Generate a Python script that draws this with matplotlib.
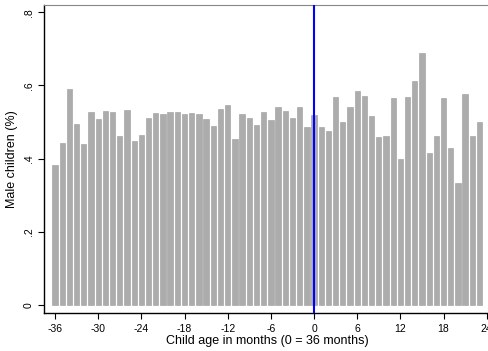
import matplotlib
matplotlib.use('Agg')
import matplotlib.pyplot as plt
import numpy as np

# Child age relative to 36 months, and share of male children
months = np.arange(-36, 24)
male_share = [
    0.383, 0.443, 0.590, 0.495, 0.441, 0.528, 0.508, 0.530, 0.527, 0.463,
    0.534, 0.448, 0.464, 0.512, 0.525, 0.522, 0.527, 0.527, 0.522, 0.525,
    0.522, 0.508, 0.489, 0.536, 0.547, 0.454, 0.523, 0.511, 0.493, 0.527,
    0.505, 0.542, 0.530, 0.512, 0.542, 0.486, 0.518, 0.486, 0.475, 0.568,
    0.500, 0.541, 0.585, 0.571, 0.517, 0.459, 0.463, 0.566, 0.399, 0.568,
    0.613, 0.689, 0.415, 0.462, 0.566, 0.429, 0.333, 0.577, 0.463, 0.500,
]
xticks = [-36, -30, -24, -18, -12, -6, 0, 6, 12, 18, 24]
yticks = [0, 0.2, 0.4, 0.6, 0.8]
ytick_labels = ['0', '.2', '.4', '.6', '.8']

plt.rcParams['font.family'] = ['Liberation Sans', 'DejaVu Sans']
plt.rcParams['axes.unicode_minus'] = False

fig = plt.figure(figsize=(4.89, 3.51), dpi=100)
ax = fig.add_axes([0.090, 0.108, 0.912, 0.879])

ax.bar(months, male_share, width=0.74, color='#acacac', edgecolor='#9a9a9a', linewidth=0.4)
ax.axvline(0, color='blue', linewidth=1.5, zorder=3)

ax.set_xlim(-37.53, 24.45)
ax.set_ylim(-0.022, 0.821)
ax.set_xticks(xticks)
ax.set_yticks(yticks)
ax.set_yticklabels(ytick_labels, rotation=90, va='center')
ax.tick_params(labelsize=7.5, length=4, width=0.8, color='black')

ax.spines['right'].set_visible(False)
ax.spines['top'].set_color('#888888')
ax.spines['left'].set_linewidth(1.0)
ax.spines['bottom'].set_linewidth(1.0)

ax.set_xlabel('Child age in months (0 = 36 months)', fontsize=9, labelpad=1)
ax.set_ylabel('Male children (%)', fontsize=9, labelpad=4)

fig.savefig('out.png', dpi=100)
